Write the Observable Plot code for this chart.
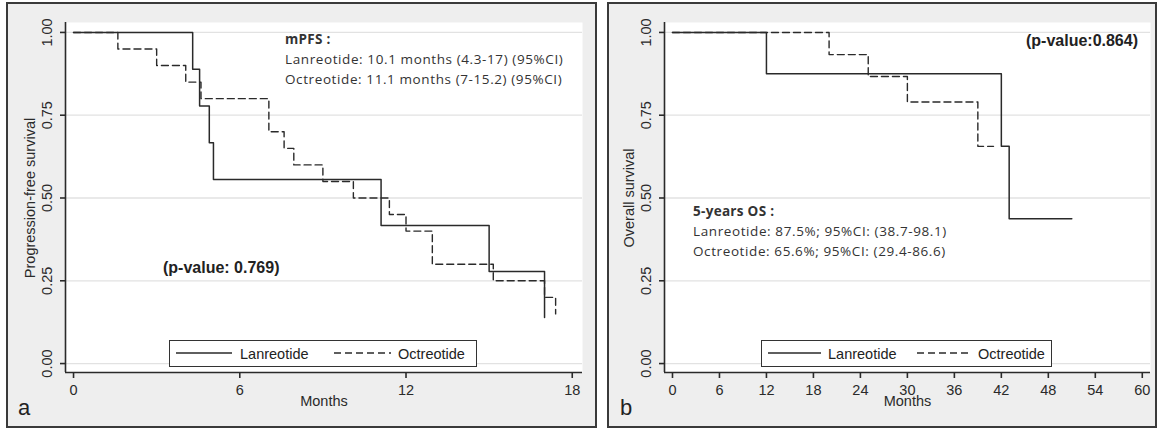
<!DOCTYPE html>
<html>
<head>
<meta charset="utf-8">
<script src="https://cdn.jsdelivr.net/npm/d3@7"></script>
<script src="https://cdn.jsdelivr.net/npm/@observablehq/plot@0.6"></script>
<style>
  html, body { margin: 0; padding: 0; background: #fff; }
  #wrap { position: relative; width: 1158px; height: 429px; overflow: hidden; background: #fff; }
  .panel { position: absolute; background: #eeeeee; }
  .panel svg { display: block; }
  .frame { position: absolute; border: 2px solid #3a3a3a; box-sizing: border-box; pointer-events: none; }
  .ann { position: absolute; white-space: nowrap; line-height: 1; transform: translateY(-50%); color: #333;
         font-family: "Open Sans", sans-serif; font-size: 13.5px; letter-spacing: 0.6px; }
  .ann.b { font-weight: bold; letter-spacing: 0.3px; }
  .pv { position: absolute; white-space: nowrap; line-height: 1; transform: translateY(-50%); color: #222;
        font-family: "Liberation Sans", Arial, sans-serif; font-weight: bold; font-size: 16px; }
  .lab { position: absolute; font-family: "Liberation Sans", Arial, sans-serif; font-size: 22px; color: #222; line-height: 1; }
  .legend { position: absolute; height: 27px; background: #fff; border: 1.5px solid #333; box-sizing: border-box;
            font-family: "Liberation Sans", Arial, sans-serif; font-size: 14.5px; color: #222; }
  .legend svg { position: absolute; left: 0; top: 0; }
  .legend span { position: absolute; top: 50%; transform: translateY(-50%); line-height: 1; white-space: nowrap; }
</style>
</head>
<body>
<div id="wrap"></div>
<script>
// ---------- data ----------
const seriesNames = ["Lanreotide", "Octreotide"];
const yTicks = [0, 0.25, 0.5, 0.75, 1];

// Panel a: progression-free survival (months)
const pfsXTicks = [0, 6, 12, 18];
const pfsLanTime = [0, 4.3, 4.55, 4.9, 5.05, 11.1, 15.0, 17.0];
const pfsLanSurv = [1, 0.889, 0.778, 0.667, 0.556, 0.417, 0.278, 0.139];
const pfsOctTime = [0, 1.6, 3.0, 4.05, 4.6, 7.05, 7.6, 7.95, 9.0, 10.1, 11.4, 12.0, 12.95, 15.15, 17.0, 17.4];
const pfsOctSurv = [1, 0.95, 0.9, 0.85, 0.8, 0.7, 0.65, 0.6, 0.55, 0.5, 0.45, 0.4, 0.3, 0.25, 0.2, 0.15];

// Panel b: overall survival (months)
const osXTicks = [0, 6, 12, 18, 24, 30, 36, 42, 48, 54, 60];
const osLanTime = [0, 12, 42, 43, 51];
const osLanSurv = [1, 0.875, 0.656, 0.4375, 0.4375];
const osOctTime = [0, 20, 25, 30, 39, 41];
const osOctSurv = [1, 0.933, 0.867, 0.79, 0.656, 0.656];

// text
const pfsTitle = "mPFS :";
const pfsLines = ["Lanreotide: 10.1 months (4.3-17) (95%CI)", "Octreotide: 11.1 months (7-15.2) (95%CI)"];
const pfsP = "(p-value: 0.769)";
const osTitle = "5-years OS :";
const osLines = ["Lanreotide: 87.5%; 95%CI: (38.7-98.1)", "Octreotide: 65.6%; 95%CI: (29.4-86.6)"];
const osP = "(p-value:0.864)";

// ---------- drawing ----------
const yDomain = [-0.027, 1.03];
const ink = "#2a2a2a";

function steps(time, surv) {
  return time.map((t, i) => ({t, s: surv[i]}));
}

function panel({width, marginLeft, marginRight, xDomain, xTicks, lan, oct, yLabel}) {
  return Plot.plot({
    width, height: 424,
    marginLeft, marginRight, marginTop: 19, marginBottom: 55,
    style: {background: "transparent", fontFamily: "'Liberation Sans', Arial, sans-serif", fontSize: "14.5px", color: ink, overflow: "visible"},
    x: {domain: xDomain},
    y: {domain: yDomain},
    marks: [
      Plot.frame({fill: "white", stroke: "none"}),
      Plot.ruleY(yTicks, {stroke: "#e2e2e2", strokeWidth: 1.3}),
      Plot.ruleX([xDomain[0]], {stroke: ink, strokeWidth: 1.6}),
      Plot.ruleY([yDomain[0]], {stroke: ink, strokeWidth: 1.6}),
      Plot.axisX({ticks: xTicks, tickSize: 6, tickPadding: 6, label: null, strokeWidth: 1.6, fontSize: 14.5}),
      Plot.axisY({ticks: yTicks, tickSize: 5, tickFormat: () => "", label: null, strokeWidth: 1.6}),
      Plot.text(yTicks, {y: d => d, text: d => d3.format(".2f")(d), frameAnchor: "left", textAnchor: "middle", lineAnchor: "middle", dx: -18, rotate: -90, fontSize: 14.5}),
      Plot.text([0.5], {y: d => d, text: () => yLabel, frameAnchor: "left", textAnchor: "middle", lineAnchor: "middle", dx: -35, rotate: -90, fontSize: 14.5}),
      Plot.text(["Months"], {frameAnchor: "bottom", dy: 33, text: d => d, fontSize: 14.5}),
      Plot.line(oct, {x: "t", y: "s", curve: "step-after", stroke: ink, strokeWidth: 1.4, strokeDasharray: "7,4"}),
      Plot.line(lan, {x: "t", y: "s", curve: "step-after", stroke: ink, strokeWidth: 1.5})
    ]
  });
}

const wrap = document.getElementById("wrap");

function addPanel(left, width, plot) {
  const p = document.createElement("div");
  p.className = "panel";
  Object.assign(p.style, {left: left + "px", top: "3px", width: width + "px", height: "424px"});
  p.appendChild(plot);
  wrap.appendChild(p);
  const f = document.createElement("div");
  f.className = "frame";
  Object.assign(f.style, {left: (left - 1) + "px", top: "2px", width: (width + 1) + "px", height: "426px"});
  wrap.appendChild(f);
}

addPanel(7, 590, panel({
  width: 590, marginLeft: 58, marginRight: 15,
  xDomain: [-0.29, 18.37], xTicks: pfsXTicks,
  lan: steps(pfsLanTime, pfsLanSurv), oct: steps(pfsOctTime, pfsOctSurv),
  yLabel: "Progression-free survival"
}));

addPanel(608, 549, panel({
  width: 549, marginLeft: 56, marginRight: 7,
  xDomain: [-1.02, 61.05], xTicks: osXTicks,
  lan: steps(osLanTime, osLanSurv), oct: steps(osOctTime, osOctSurv),
  yLabel: "Overall survival"
}));

function addText(cls, txt, left, cy, extra) {
  const d = document.createElement("div");
  d.className = cls;
  d.textContent = txt;
  d.style.left = left + "px";
  d.style.top = cy + "px";
  if (extra) Object.assign(d.style, extra);
  wrap.appendChild(d);
  return d;
}

addText("ann b", pfsTitle, 285, 40);
addText("ann", pfsLines[0], 285, 60);
addText("ann", pfsLines[1], 285, 80);
addText("pv", pfsP, 163, 268);

addText("ann b", osTitle, 693, 212);
addText("ann", osLines[0], 693, 232);
addText("ann", osLines[1], 693, 252);
const pv2 = addText("pv", osP, 0, 41);
pv2.style.left = "auto";
pv2.style.right = (1158 - 1138) + "px";

// panel letters
const la = document.createElement("div"); la.className = "lab"; la.textContent = "a";
Object.assign(la.style, {left: "18px", top: "397px"}); wrap.appendChild(la);
const lb = document.createElement("div"); lb.className = "lab"; lb.textContent = "b";
Object.assign(lb.style, {left: "620px", top: "397px"}); wrap.appendChild(lb);

// legends
function addLegend(left, width, l1, t1, l2, t2) {
  const g = document.createElement("div");
  g.className = "legend";
  Object.assign(g.style, {left: left + "px", top: "340px", width: width + "px"});
  const ns = "http://www.w3.org/2000/svg";
  const svg = document.createElementNS(ns, "svg");
  svg.setAttribute("width", width); svg.setAttribute("height", 27);
  [[l1, null], [l2, "7,4"]].forEach(([xs, dash]) => {
    const ln = document.createElementNS(ns, "line");
    ln.setAttribute("x1", xs[0]); ln.setAttribute("x2", xs[1]);
    ln.setAttribute("y1", 12); ln.setAttribute("y2", 12);
    ln.setAttribute("stroke", ink); ln.setAttribute("stroke-width", 1.5);
    if (dash) ln.setAttribute("stroke-dasharray", dash);
    svg.appendChild(ln);
  });
  g.appendChild(svg);
  [[t1, seriesNames[0]], [t2, seriesNames[1]]].forEach(([x, name]) => {
    const s = document.createElement("span");
    s.textContent = name; s.style.left = x + "px";
    g.appendChild(s);
  });
  wrap.appendChild(g);
}
addLegend(169, 308, [6, 62], 70, [164, 221], 228);
addLegend(761, 291, [6, 59], 66, [155, 208], 216);
</script>
</body>
</html>
